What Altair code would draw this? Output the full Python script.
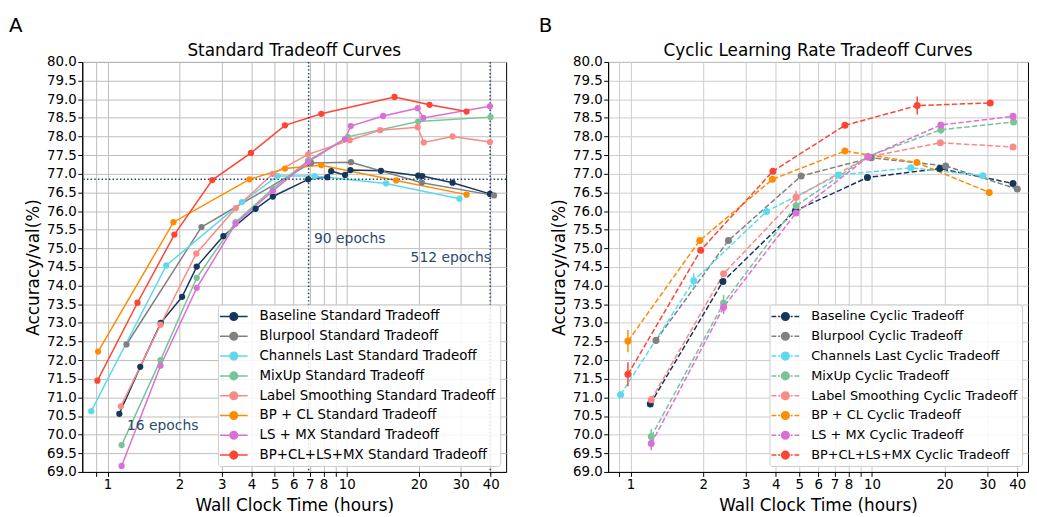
import altair as alt
import pandas as pd

FONT = "DejaVu Sans"

# ---------------- Panel A: standard tradeoff ----------------
std_names = [
    "Baseline Standard Tradeoff",
    "Blurpool Standard Tradeoff",
    "Channels Last Standard Tradeoff",
    "MixUp Standard Tradeoff",
    "Label Smoothing Standard Tradeoff",
    "BP + CL Standard Tradeoff",
    "LS + MX Standard Tradeoff",
    "BP+CL+LS+MX Standard Tradeoff",
]
std_x = [
    [1.12, 1.37, 1.67, 2.05, 2.36, 3.05, 4.16, 4.91, 6.90, 8.29, 8.61, 9.84, 10.36, 13.9, 19.9, 20.7, 27.7, 39.7],
    [1.20, 2.47, 7.10, 10.42, 20.6, 41.3],
    [0.855, 1.76, 3.65, 5.14, 7.35, 14.6, 29.6],
    [1.145, 1.665, 2.36, 3.43, 4.91, 6.90, 10.1, 19.9, 39.9],
    [1.137, 1.665, 2.35, 3.44, 4.91, 6.90, 10.29, 13.8, 19.8, 21.0, 27.7, 39.7],
    [0.913, 1.886, 3.92, 5.52, 7.83, 16.1, 31.7],
    [1.145, 1.665, 2.36, 3.43, 4.91, 6.90, 9.84, 10.4, 14.2, 19.8, 20.9, 39.7],
    [0.907, 1.334, 1.903, 2.74, 3.98, 5.52, 7.83, 15.85, 22.2, 31.7],
]
std_y = [
    [70.56, 71.82, 73.00, 73.70, 74.51, 75.33, 76.06, 76.39, 76.85, 76.91, 77.07, 76.97, 77.10, 77.08, 76.95, 76.94, 76.76, 76.46],
    [72.42, 75.57, 77.29, 77.31, 76.76, 76.42],
    [70.63, 74.54, 76.24, 76.94, 76.94, 76.74, 76.33],
    [69.72, 72.00, 74.21, 75.70, 76.60, 77.35, 77.99, 78.40, 78.52],
    [70.76, 72.95, 74.86, 76.08, 77.00, 77.52, 77.90, 78.17, 78.25, 77.84, 78.00, 77.85],
    [72.23, 75.70, 76.85, 77.14, 77.23, 76.82, 76.44],
    [69.16, 71.85, 73.94, 75.66, 76.54, 77.32, 77.93, 78.28, 78.55, 78.76, 78.50, 78.81],
    [71.45, 73.54, 75.37, 76.83, 77.56, 78.30, 78.61, 79.06, 78.85, 78.67],
]
ref_h = [76.85]
ref_v = [6.93, 39.8]
note_x = [7.30, 18.5, 1.205]
note_y = [75.24, 74.73, 70.22]
note_text = ["90 epochs", "512 epochs", "16 epochs"]

# ---------------- Panel B: cyclic tradeoff ----------------
cyc_names = [
    "Baseline Cyclic Tradeoff",
    "Blurpool Cyclic Tradeoff",
    "Channels Last Cyclic Tradeoff",
    "MixUp Cyclic Tradeoff",
    "Label Smoothing Cyclic Tradeoff",
    "BP + CL Cyclic Tradeoff",
    "LS + MX Cyclic Tradeoff",
    "BP+CL+LS+MX Cyclic Tradeoff",
]
cyc_x = [
    [1.208, 2.414, 4.82, 9.58, 19.1, 38.4],
    [1.275, 2.545, 5.09, 9.94, 20.2, 40.0],
    [0.91, 1.829, 3.66, 7.26, 14.5, 28.8],
    [1.219, 2.43, 4.85, 9.63, 19.3, 38.6],
    [1.219, 2.43, 4.85, 9.63, 19.2, 38.4],
    [0.976, 1.936, 3.87, 7.73, 15.35, 30.6],
    [1.219, 2.43, 4.85, 9.63, 19.3, 38.4],
    [0.976, 1.954, 3.89, 7.73, 15.4, 30.9],
]
cyc_y = [
    [70.82, 74.11, 76.01, 76.90, 77.14, 76.74],
    [72.53, 75.21, 76.94, 77.43, 77.21, 76.59],
    [71.07, 74.13, 75.99, 76.97, 77.16, 76.95],
    [69.95, 73.53, 76.14, 77.47, 78.18, 78.39],
    [70.94, 74.32, 76.37, 77.45, 77.83, 77.72],
    [72.51, 75.21, 76.85, 77.61, 77.30, 76.50],
    [69.76, 73.42, 75.95, 77.45, 78.31, 78.54],
    [71.62, 74.95, 77.07, 78.30, 78.83, 78.90],
]
cyc_err = [
    [0.0, 0.0, 0.0, 0.0, 0.0, 0.0],
    [0.0, 0.0, 0.0, 0.0, 0.0, 0.0],
    [0.05, 0.2, 0.1, 0.05, 0.0, 0.0],
    [0.2, 0.22, 0.1, 0.0, 0.12, 0.0],
    [0.1, 0.0, 0.18, 0.0, 0.0, 0.0],
    [0.3, 0.0, 0.0, 0.0, 0.0, 0.0],
    [0.18, 0.18, 0.0, 0.0, 0.0, 0.0],
    [0.32, 0.0, 0.0, 0.0, 0.24, 0.0],
]

colors = ["#16375c", "#808080", "#5dd9ee", "#79c398", "#fa8a85", "#ff8c00", "#da70d6", "#ff4433"]
x_ticks = [0.9, 1, 2, 3, 4, 5, 6, 7, 8, 9, 10, 20, 30, 40]
y_ticks = [69 + 0.5 * i for i in range(23)]


def make_df(names, xs, ys, errs=None):
    rows = []
    for i, n in enumerate(names):
        for j, (x, y) in enumerate(zip(xs[i], ys[i])):
            e = errs[i][j] if errs else 0.0
            rows.append({"series": n, "idx": i, "t": x, "acc": y, "lo": y - e, "hi": y + e, "err": e})
    return pd.DataFrame(rows)


SOLID = "M-2,0L2,0M-0.55,0A0.55,0.55 0 1,0 0.55,0A0.55,0.55 0 1,0 -0.55,0Z"
DASHED = ("M-2,0L-1.3,0M-1.05,0L-0.75,0M0.75,0L1.05,0M1.3,0L2,0"
          "M-0.55,0A0.55,0.55 0 1,0 0.55,0A0.55,0.55 0 1,0 -0.55,0Z")


def encodings(domain, grid_color):
    x = alt.X("t:Q", title="Wall Clock Time (hours)",
              scale=alt.Scale(type="log", domain=domain, nice=False),
              axis=alt.Axis(values=x_ticks, format="~g", gridColor=grid_color, labelOverlap=False,
                            titlePadding=6,
                            labelExpr="datum.value == 0.9 || datum.value == 9 ? '' : datum.label"))
    y = alt.Y("acc:Q", title="Accuracy/val(%)",
              scale=alt.Scale(domain=[69, 80], nice=False, zero=False),
              axis=alt.Axis(values=y_ticks, format=".1f", gridColor=grid_color, labelOverlap=False,
                            tickCount=23))
    return x, y


def panel(df, names, x, y, width, title, letter, letter_dx, dashed, point_size, label_size):
    legend = alt.Legend(
        title=None, orient="bottom-right", offset=6,
        symbolType=DASHED if dashed else SOLID, symbolSize=196, symbolStrokeWidth=1.5,
        symbolOffset=4, labelOffset=18, labelFont=FONT, labelFontSize=label_size,
        labelColor="black", padding=4, rowPadding=5.0,
        fillColor="rgba(255,255,255,0.85)", strokeColor="#cccccc", cornerRadius=3,
        labelLimit=400,
    )
    color = alt.Color("series:N", scale=alt.Scale(domain=names, range=colors), legend=legend)
    base = alt.Chart(df)
    line_kw = {"strokeWidth": 1.5}
    if dashed:
        line_kw["strokeDash"] = [5.5, 2.4]
    lines = base.mark_line(**line_kw).encode(x=x, y=y, color=color, detail="series:N")
    pts = base.mark_point(filled=True, size=point_size, opacity=1).encode(x=x, y=y, color=color)
    layers = [lines]
    if dashed:
        errs = base.transform_filter("datum.err > 0").mark_rule(strokeWidth=1.5).encode(
            x=x, y=alt.Y("lo:Q"), y2="hi:Q", color=color)
        layers.append(errs)
    layers.append(pts)
    let = alt.Chart(pd.DataFrame({"k": [letter]})).mark_text(
        align="left", baseline="alphabetic", fontSize=20, font=FONT, color="black"
    ).encode(text="k:N", x=alt.value(letter_dx), y=alt.value(-30))
    ttl = alt.Chart(pd.DataFrame({"k": [title]})).mark_text(
        align="center", baseline="alphabetic", fontSize=17, font=FONT, color="black"
    ).encode(text="k:N", x=alt.value(width / 2), y=alt.value(-6))
    layers += [let, ttl]
    return layers


# left panel
xl, yl = encodings([0.784, 46.4], "#bdbdbd")
df_std = make_df(std_names, std_x, std_y)
left_layers = panel(df_std, std_names, xl, yl, 428, "Standard Tradeoff Curves", "A", -74, False, 40, 13.5)
ref_col = "#22446c"
hrule = alt.Chart(pd.DataFrame({"acc": ref_h})).mark_rule(
    strokeDash=[1.5, 2.2], strokeWidth=1.5, color=ref_col).encode(y=yl)
vrule = alt.Chart(pd.DataFrame({"t": ref_v})).mark_rule(
    strokeDash=[1.5, 2.2], strokeWidth=1.5, color=ref_col).encode(x=xl)
notes = alt.Chart(pd.DataFrame({"t": note_x, "acc": note_y, "txt": note_text})).mark_text(
    align="left", baseline="middle", fontSize=14, font=FONT, color="#2c4a6e"
).encode(x=xl, y=yl, text="txt:N")
left = alt.layer(left_layers[0], hrule, vrule, *left_layers[1:], notes).properties(width=428, height=414)

# right panel
xr, yr = encodings([0.808, 44.3], "#cccccc")
df_cyc = make_df(cyc_names, cyc_x, cyc_y, cyc_err)
right_layers = panel(df_cyc, cyc_names, xr, yr, 424, "Cyclic Learning Rate Tradeoff Curves", "B", -70,
                     True, 50, 13)
right = alt.layer(*right_layers).properties(width=424, height=414)

chart = (
    alt.hconcat(left, right, spacing=30)
    .resolve_scale(x="independent", y="independent", color="independent")
    .resolve_legend(color="independent")
    .properties(padding={"left": 0, "top": 5, "right": 0, "bottom": 0})
    .configure_view(stroke="black", strokeWidth=1)
    .configure_axis(
        labelFont=FONT, labelFontSize=13.5, labelColor="black",
        titleFont=FONT, titleFontSize=17, titleFontWeight="normal", titleColor="black",
        tickColor="black", tickSize=4.5, labelPadding=1.5, domainColor="black",
        gridWidth=1,
    )
)

chart.save("out.html", embed_options={"renderer": "svg", "actions": False})
